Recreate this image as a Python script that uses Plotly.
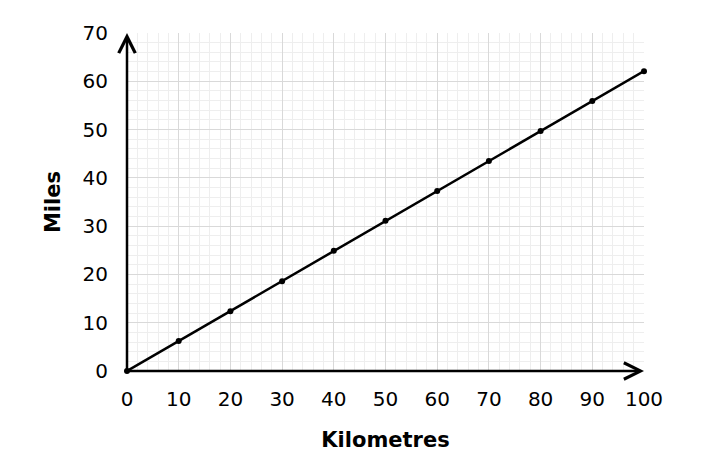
import plotly.graph_objects as go

# kilometres vs miles conversion points
km = [0, 10, 20, 30, 40, 50, 60, 70, 80, 90, 100]
miles = [0, 6.2, 12.4, 18.6, 24.9, 31.1, 37.3, 43.5, 49.7, 55.9, 62.1]
x_ticks = [0, 10, 20, 30, 40, 50, 60, 70, 80, 90, 100]
y_ticks = [0, 10, 20, 30, 40, 50, 60, 70]

fig = go.Figure()
fig.add_scatter(x=km, y=miles, mode='lines+markers',
                line=dict(color='black', width=2.5),
                marker=dict(color='black', size=6),
                showlegend=False, cliponaxis=False)

# axis lines with arrow heads
fig.add_annotation(x=100, y=0, ax=0, ay=0, xref='x', yref='y', axref='x', ayref='y',
                   text='', showarrow=True, arrowhead=5, arrowsize=1.3, arrowwidth=2.5,
                   arrowcolor='black')
fig.add_annotation(x=0, y=70, ax=0, ay=0, xref='x', yref='y', axref='x', ayref='y',
                   text='', showarrow=True, arrowhead=5, arrowsize=1.3, arrowwidth=2.5,
                   arrowcolor='black')

font = dict(family='DejaVu Sans, Verdana, sans-serif', size=20, color='black')
title_font = dict(family='DejaVu Sans, Verdana, sans-serif', size=21, color='black')
# page body keeps an 8px margin, so the margins are trimmed by 8px
fig.update_layout(
    width=702, height=471,
    margin=dict(l=119, r=66, t=25, b=108),
    plot_bgcolor='white', paper_bgcolor='white',
    font=font,
    xaxis=dict(range=[0, 100], tickvals=x_ticks, showgrid=True, gridcolor='#d9d9d9', gridwidth=1.2,
               minor=dict(dtick=2, showgrid=True, gridcolor='#eeeeee', gridwidth=1),
               zeroline=False, showline=False, ticks='', ticklabelstandoff=14,
               title=dict(text='<b>Kilometres</b>', standoff=22, font=title_font)),
    yaxis=dict(range=[0, 70], tickvals=y_ticks, showgrid=True, gridcolor='#d9d9d9', gridwidth=1.2,
               minor=dict(dtick=2, showgrid=True, gridcolor='#eeeeee', gridwidth=1),
               zeroline=False, showline=False, ticks='', ticklabelstandoff=18,
               title=dict(text='<b>Miles</b>', standoff=16, font=title_font)),
)

fig.write_html("out.html")
